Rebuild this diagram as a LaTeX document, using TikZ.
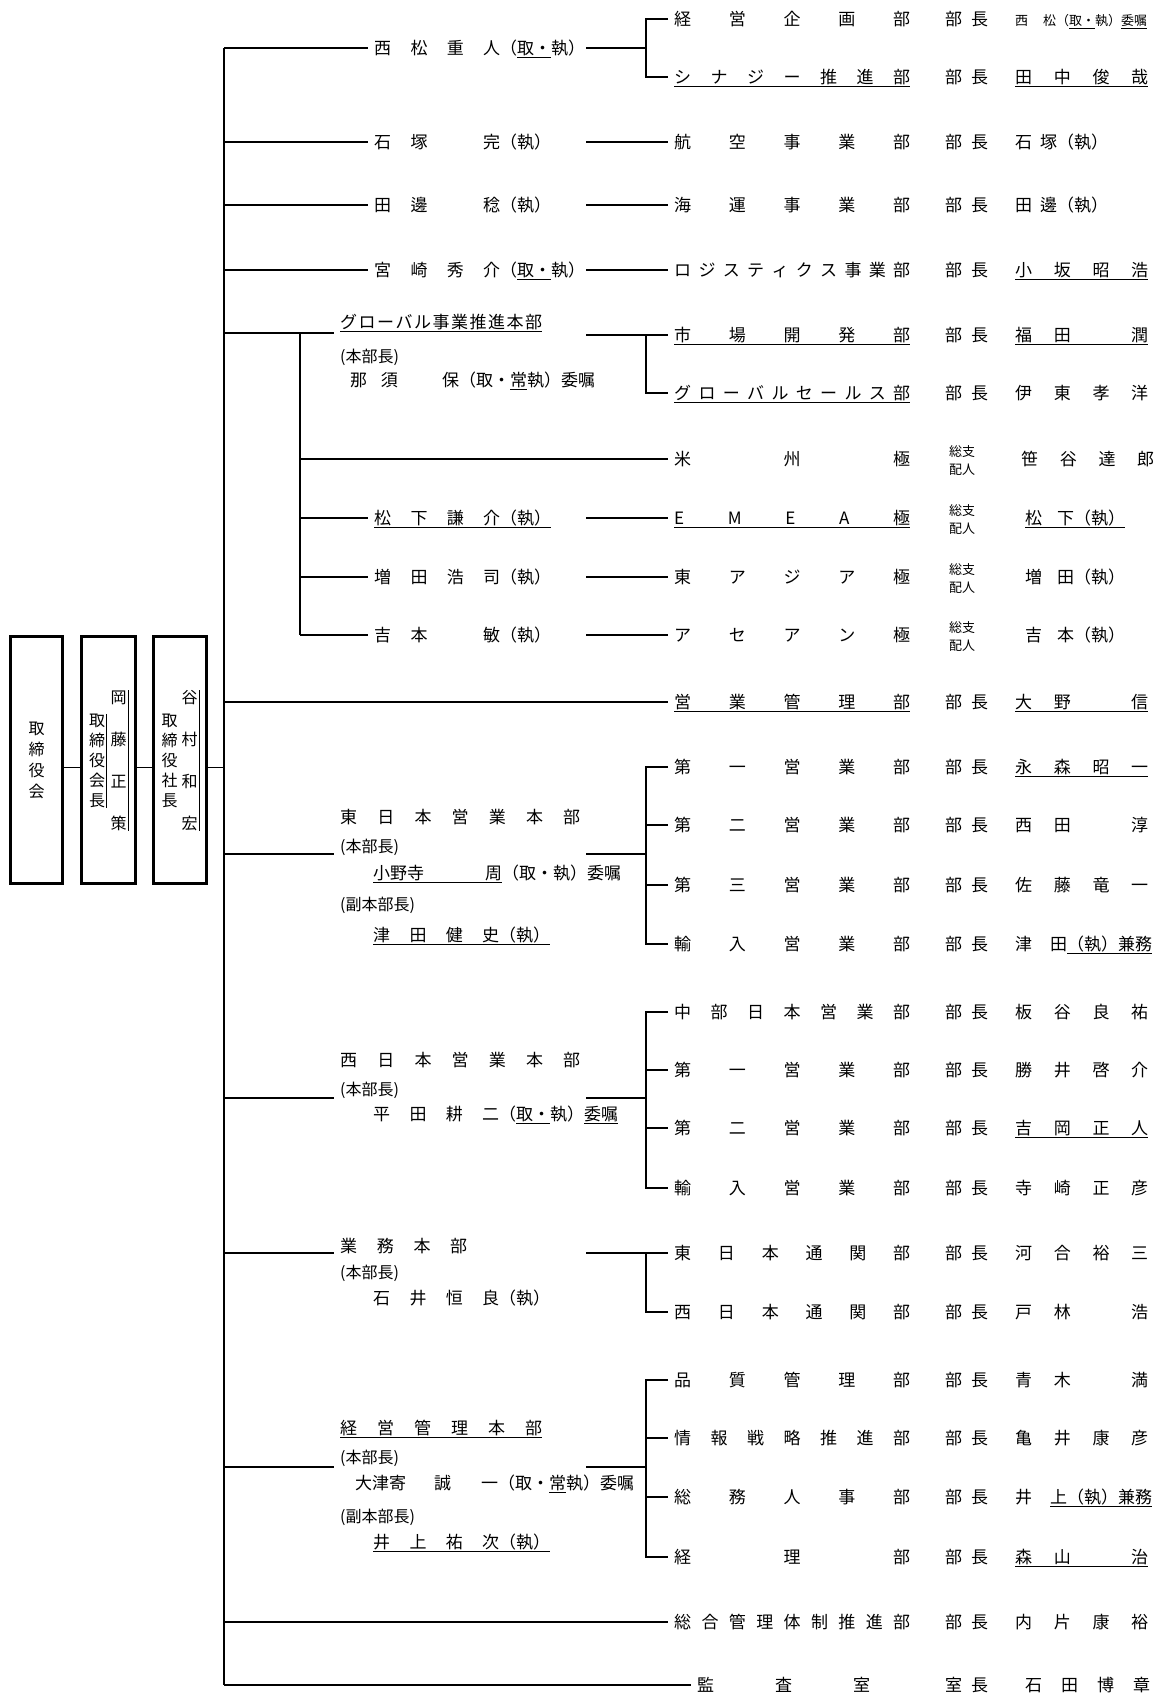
\documentclass[tikz,border=0pt]{standalone}
\usepackage{fontspec}
\setmainfont{Noto Sans CJK JP}

\newsavebox\ulbox
\newcommand\uln[1]{\sbox\ulbox{#1}\smash{\rlap{\rule[-3.5pt]{\wd\ulbox}{0.8pt}}}\usebox\ulbox}
\def\spreadnext#1{\ifx#1\relax\else\hfill#1\expandafter\spreadnext\fi}
\def\spreadfirst#1{#1\spreadnext}
\newcommand\spreadtext[1]{\spreadfirst#1\relax}
\newcommand\dpn[1]{\makebox[236pt]{\spreadtext{#1}}}
\newcommand\dpu[1]{\uln{\dpn{#1}}}
\newcommand\nm[1]{\makebox[133pt]{\spreadtext{#1}}}
\newcommand\nmu[1]{\uln{\nm{#1}}}
\newcommand\pn[1]{\makebox[126pt]{\spreadtext{#1}}}
\newcommand\ttl[1]{\makebox[43pt]{\spreadtext{#1}}}
\newcommand\buch{\ttl{部長}}
\newcommand\soshi{{\fontsize{13}{18}\selectfont\hspace*{4pt}\begin{tabular}{@{}l@{}}総支\\配人\end{tabular}}}

\tikzset{
  conn/.style={line width=1.5pt},
  trunk/.style={line width=2pt},
  link/.style={line width=1pt},
  orgbox/.style={draw, line width=3.3pt, minimum width=52pt, minimum height=247pt, inner sep=0pt},
  vtxt/.style={align=center, inner sep=0pt},
  txt/.style={anchor=west, inner sep=0pt, text height=14pt, text depth=2pt, font=\fontsize{17}{20}\selectfont},
  dept/.style={txt, inner xsep=6pt},
  pers/.style={txt, inner xsep=6pt},
  rank/.style={txt, inner xsep=6pt, text height=13pt, font=\fontsize{16}{19}\selectfont},
}

\begin{document}
\begin{tikzpicture}[x=1pt,y=-1pt]
\useasboundingbox (0,0) rectangle (1161,1695);

% board, chairman, president
\node[orgbox] (b1) at (36.5,760) {};
\node[orgbox, minimum width=54pt] (b2) at (108.5,760) {};
\node[orgbox, minimum width=53pt] (b3) at (180,760) {};
\node[vtxt, font=\fontsize{16}{21}\selectfont] (v1) at (36.5,760) {取\\締\\役\\会};
\node[vtxt, font=\fontsize{16}{20}\selectfont] (v2) at (97,761) {取\\締\\役\\会\\長};
\node[vtxt, font=\fontsize{16}{42}\selectfont] (v3) at (118.5,760.5) {岡\\藤\\正\\策};
\node[vtxt, font=\fontsize{16}{20}\selectfont] (v4) at (169.5,761) {取\\締\\役\\社\\長};
\node[vtxt, font=\fontsize{16}{42}\selectfont] (v5) at (189.5,760.5) {谷\\村\\和\\宏};
\draw[line width=0.8pt] ([xshift=1.5pt]v2.north east) -- ([xshift=1.5pt]v2.south east);
\draw[line width=0.8pt] ([xshift=1.5pt]v3.north east) -- ([xshift=1.5pt]v3.south east);
\draw[line width=0.8pt] ([xshift=1.5pt]v5.north east) -- ([xshift=1.5pt]v5.south east);

\foreach \n/\y in {1/48,2/142,3/205,4/270,5/333,6/702,7/767,8/854,9/1098,10/1253,11/1467,12/1622,13/1685}
  \coordinate (j\n) at (224,\y);
\foreach \n/\y in {1/48,2/142,3/205,4/270,5/335,6/518,7/577,8/635,9/854,10/1098,11/1253,12/1467}
  \coordinate (r\n) at (586,\y);
\foreach \n/\y in {0/333,1/459,2/518,3/577,4/635}
  \coordinate (s\n) at (300,\y);
\coordinate (bk1) at (646,48);
\coordinate (bk2) at (646,335);
\coordinate (bk3) at (646,854);
\coordinate (bk4) at (646,1098);
\coordinate (bk5) at (646,1253);
\coordinate (bk6) at (646,1467);
\coordinate (lnk) at (0,767);

\draw[link] (b1.east |- lnk) -- (b2.west |- lnk);
\draw[link] (b2.east |- lnk) -- (b3.west |- lnk);
\draw[link] (b3.east |- lnk) -- (j7);
\draw[trunk] (j1) -- (j13);

% departments
\foreach \k/\ry/\rdept/\rtit/\rhead in {
  1/19/{\dpn{経営企画部}}/\buch/{\fontsize{13}{15}\selectfont 西\hspace{15pt}松（\uln{取・}執）\uln{委嘱}},
  2/77/{\dpu{シナジー推進部}}/\buch/{\nmu{田中俊哉}},
  3/142/{\dpn{航空事業部}}/\buch/{石\hspace{8pt}塚（執）},
  4/205/{\dpn{海運事業部}}/\buch/{田\hspace{8pt}邊（執）},
  5/270/{\dpn{ロジスティクス事業部}}/\buch/{\nmu{小坂昭浩}},
  6/335/{\dpu{市場開発部}}/\buch/{\nmu{福田　潤}},
  7/393/{\dpu{グローバルセールス部}}/\buch/{\nm{伊東孝洋}},
  8/459/{\dpn{米州極}}/\soshi/{\hspace*{6pt}\nm{笹谷達郎}},
  9/518/{\dpu{EMEA極}}/\soshi/{\hspace*{10pt}\uln{松\hspace{15pt}下（執）}},
  10/577/{\dpn{東アジア極}}/\soshi/{\hspace*{10pt}増\hspace{15pt}田（執）},
  11/635/{\dpn{アセアン極}}/\soshi/{\hspace*{10pt}吉\hspace{15pt}本（執）},
  12/702/{\dpu{営業管理部}}/\buch/{\nmu{大野　信}},
  13/767/{\dpn{第一営業部}}/\buch/{\nmu{永森昭一}},
  14/825/{\dpn{第二営業部}}/\buch/{\nm{西田　淳}},
  15/885/{\dpn{第三営業部}}/\buch/{\nm{佐藤竜一}},
  16/944/{\dpn{輸入営業部}}/\buch/{津\hspace{18pt}田\uln{（執）兼務}},
  17/1012/{\dpn{中部日本営業部}}/\buch/{\nm{板谷良祐}},
  18/1070/{\dpn{第一営業部}}/\buch/{\nm{勝井啓介}},
  19/1128/{\dpn{第二営業部}}/\buch/{\nmu{吉岡正人}},
  20/1188/{\dpn{輸入営業部}}/\buch/{\nm{寺崎正彦}},
  21/1253/{\dpn{東日本通関部}}/\buch/{\nm{河合裕三}},
  22/1312/{\dpn{西日本通関部}}/\buch/{\nm{戸林　浩}},
  23/1380/{\dpn{品質管理部}}/\buch/{\nm{青木　満}},
  24/1438/{\dpn{情報戦略推進部}}/\buch/{\nm{亀井康彦}},
  25/1497/{\dpn{総務人事部}}/\buch/{井\hspace{18pt}\uln{上（執）兼務}},
  26/1557/{\dpn{経理部}}/\buch/{\nmu{森山　治}},
  27/1622/{\dpn{総合管理体制推進部}}/\buch/{\nm{内片康裕}}}
{
  \node[dept] (d\k) at (668,\ry) {\rdept};
  \node[txt] (k\k) at (945,\ry) {\rtit};
  \node[txt] (h\k) at (1015,\ry) {\rhead};
}
\node[dept] (d28) at (691,1685) {\makebox[173pt]{\spreadtext{監査室}}};
\node[txt] (k28) at (945,1685) {\ttl{室長}};
\node[txt] (h28) at (1015,1685) {\hspace*{10pt}\makebox[125pt]{\spreadtext{石田博章}}};

% executives
\node[pers] (p1) at (368,48) {\pn{西松重人}（\uln{取・}執）};
\node[pers] (p2) at (368,142) {\pn{石塚　完}（執）};
\node[pers] (p3) at (368,205) {\pn{田邊　稔}（執）};
\node[pers] (p4) at (368,270) {\pn{宮崎秀介}（\uln{取・}執）};
\node[pers] (p5) at (368,518) {\uln{\pn{松下謙介}（執）}};
\node[pers] (p6) at (368,577) {\pn{増田浩司}（執）};
\node[pers] (p7) at (368,635) {\pn{吉本　敏}（執）};

\node[pers] (g1) at (334,322) {\uln{\makebox[202pt]{\spreadtext{グローバル事業推進本部}}}};
\node[rank] (g1a) at (334,357) {(本部長)};
\node[pers] (g1b) at (344,380) {\makebox[109pt]{\spreadtext{那須　保}}（取・\uln{常}執）委嘱};

\node[pers] (g2) at (334,817) {\makebox[240pt]{\spreadtext{東日本営業本部}}};
\node[rank] (g2a) at (334,847) {(本部長)};
\node[pers] (g2b) at (367,873) {\uln{\makebox[129pt]{小野寺\hfill 周}}（取・執）委嘱};
\node[rank] (g2c) at (334,905) {(副本部長)};
\node[pers] (g2d) at (367,935) {\uln{\pn{津田健史}（執）}};

\node[pers] (g3) at (334,1060) {\makebox[240pt]{\spreadtext{西日本営業本部}}};
\node[rank] (g3a) at (334,1090) {(本部長)};
\node[pers] (g3b) at (367,1114) {\pn{平田耕二}（\uln{取・}執）\uln{委嘱}};

\node[pers] (g4) at (334,1246) {\makebox[127pt]{\spreadtext{業務本部}}};
\node[rank] (g4a) at (334,1273) {(本部長)};
\node[pers] (g4b) at (367,1298) {\pn{石井恒良}（執）};

\node[pers] (g5) at (334,1428) {\uln{\makebox[202pt]{\spreadtext{経営管理本部}}}};
\node[rank] (g5a) at (334,1458) {(本部長)};
\node[pers] (g5b) at (349,1483) {大津寄\hspace{28pt}誠\hspace{30pt}一（取・\uln{常}執）委嘱};
\node[rank] (g5c) at (334,1517) {(副本部長)};
\node[pers] (g5d) at (367,1542) {\uln{\pn{井上祐次}（執）}};

% trunk branches
\draw[conn] (j1) -- (p1.west);
\draw[conn] (j2) -- (p2.west);
\draw[conn] (j3) -- (p3.west);
\draw[conn] (j4) -- (p4.west);
\draw[conn] (j5) -- (j5 -| g1.west);
\draw[conn] (j6) -- (d12.west);
\draw[conn] (j8) -- (j8 -| g2.west);
\draw[conn] (j9) -- (j9 -| g3.west);
\draw[conn] (j10) -- (j10 -| g4.west);
\draw[conn] (j11) -- (j11 -| g5.west);
\draw[conn] (j12) -- (d27.west);
\draw[conn] (j13) -- (d28.west);

\draw[conn] (s0) -- (s4);
\draw[conn] (s1) -- (d8.west);
\draw[conn] (s2) -- (p5.west);
\draw[conn] (s3) -- (p6.west);
\draw[conn] (s4) -- (p7.west);

% to departments
\draw[conn] (r1) -- (bk1);
\draw[conn] (d1.west) -| (bk1) |- (d2.west);
\draw[conn] (r2) -- (d3.west);
\draw[conn] (r3) -- (d4.west);
\draw[conn] (r4) -- (d5.west);
\draw[conn] (r5) -- (d6.west);
\draw[conn] (bk2) |- (d7.west);
\draw[conn] (r6) -- (d9.west);
\draw[conn] (r7) -- (d10.west);
\draw[conn] (r8) -- (d11.west);
\draw[conn] (r9) -- (bk3);
\draw[conn] (d13.west) -| (bk3) |- (d16.west);
\draw[conn] (bk3 |- d14.west) -- (d14.west);
\draw[conn] (bk3 |- d15.west) -- (d15.west);
\draw[conn] (r10) -- (bk4);
\draw[conn] (d17.west) -| (bk4) |- (d20.west);
\draw[conn] (bk4 |- d18.west) -- (d18.west);
\draw[conn] (bk4 |- d19.west) -- (d19.west);
\draw[conn] (r11) -- (d21.west);
\draw[conn] (bk5) |- (d22.west);
\draw[conn] (r12) -- (bk6);
\draw[conn] (d23.west) -| (bk6) |- (d26.west);
\draw[conn] (bk6 |- d24.west) -- (d24.west);
\draw[conn] (bk6 |- d25.west) -- (d25.west);
\end{tikzpicture}
\end{document}
